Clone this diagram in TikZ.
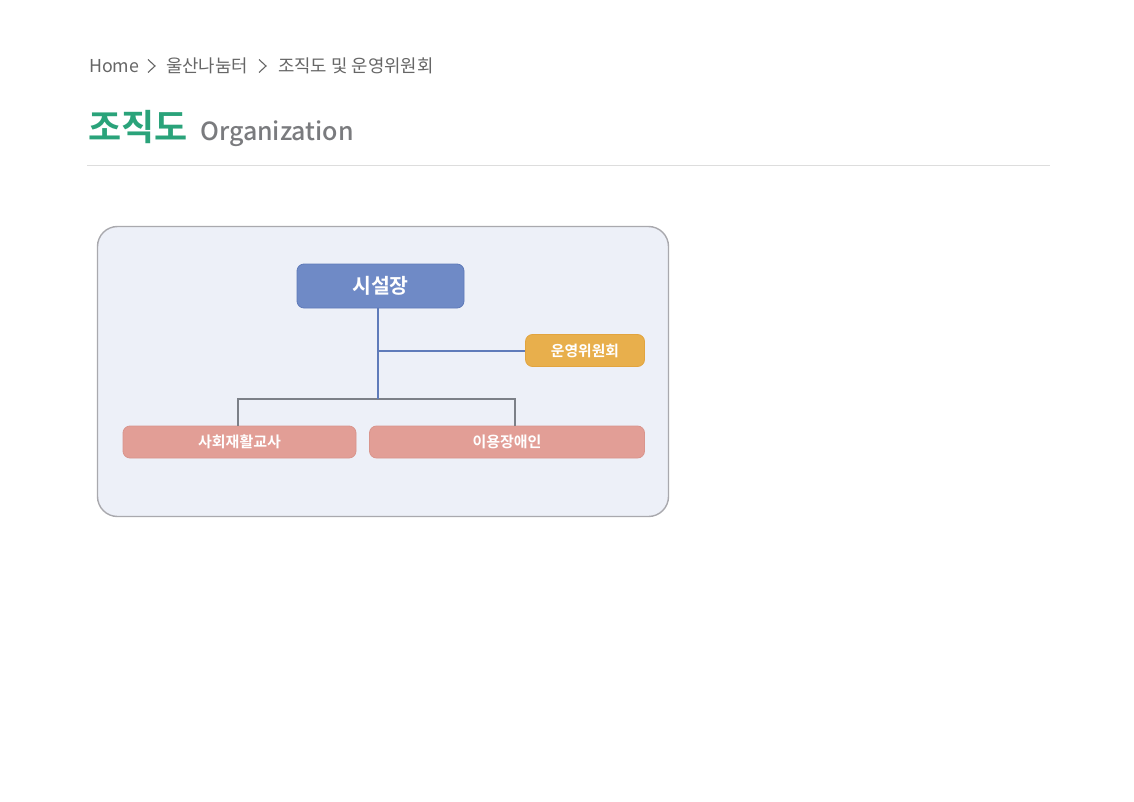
\documentclass[tikz,border=0pt]{standalone}
\usepackage{fontspec}
\setmainfont{Noto Sans CJK KR}
\newfontfamily\krbold{Noto Sans CJK KR Bold}
\newfontfamily\krmedium{Noto Sans CJK KR Medium}
\definecolor{crumbgray}{HTML}{666666}
\definecolor{titlegreen}{HTML}{2AA37A}
\definecolor{titlegray}{HTML}{7A7B7E}
\definecolor{rulegray}{HTML}{DDDDDD}
\definecolor{panelfill}{HTML}{EDF0F8}
\definecolor{paneldraw}{HTML}{A9A9AE}
\definecolor{headfill}{HTML}{6F8AC6}
\definecolor{headdraw}{HTML}{5F7AB9}
\definecolor{commfill}{HTML}{E8AF4C}
\definecolor{commdraw}{HTML}{E2A43E}
\definecolor{stafffill}{HTML}{E29E96}
\definecolor{staffdraw}{HTML}{D9958D}
\definecolor{bluelink}{HTML}{5F7BBA}
\definecolor{graylink}{HTML}{7C8088}
\begin{document}
\begin{tikzpicture}[x=1pt,y=-1pt,
    crumb/.style={anchor=base west,inner sep=0pt,text=crumbgray,font=\fontsize{17.8}{19}\selectfont},
    orgbox/.style={rounded corners=7pt,line width=0.8pt,text=white,inner sep=0pt},
    headbox/.style={orgbox,fill=headfill,draw=headdraw,minimum width=167pt,minimum height=44pt,font=\krbold\fontsize{20.5}{22}\selectfont},
    commbox/.style={orgbox,fill=commfill,draw=commdraw,minimum width=119pt,minimum height=32pt,font=\krbold\fontsize{14.8}{16}\selectfont},
    staffbox/.style={orgbox,fill=stafffill,draw=staffdraw,minimum height=32pt,font=\krbold\fontsize{15}{16}\selectfont}]
    \useasboundingbox (0,0) rectangle (1134,802);
    \fill[white] (0,0) rectangle (1134,802);
    % breadcrumb
    \node[crumb] (home) at (89,73) {Home};
    \node[crumb] (menu) at (166,73) {울산나눔터};
    \node[crumb] (page) at (278,73) {조직도 및 운영위원회};
    \draw[crumbgray,line width=1.1pt] (148,59.5)--(155,66)--(148,72.5);
    \draw[crumbgray,line width=1.1pt] (259,59.5)--(266,66)--(259,72.5);
    % title
    \node[anchor=base west,inner sep=0pt,text=titlegreen,font=\krbold\fontsize{36}{38}\selectfont] (title) at (88,141) {조직도};
    \node[anchor=base west,inner sep=0pt,text=titlegray,font=\krmedium\fontsize{25}{28}\selectfont] (subtitle) at (200,141) {Organization};
    \draw[rulegray,line width=1.2pt] (87,165.5)--(1050,165.5);
    % chart panel
    \filldraw[fill=panelfill,draw=paneldraw,line width=1.4pt,rounded corners=20pt] (97.5,226.5) rectangle (668.5,516.5);
    \node[headbox] (head) at (380.5,286) {시설장};
    \node[commbox] (comm) at (585,350.5) {운영위원회};
    \node[staffbox,minimum width=233pt] (staff) at (239.5,442) {사회재활교사};
    \node[staffbox,minimum width=275pt] (user) at (507,442) {이용장애인};
    \coordinate (trunk) at (377.5,399);
    \draw[graylink,line width=1.4pt] (trunk) -| ([xshift=-1.5pt]staff.north);
    \draw[graylink,line width=1.4pt] (trunk) -| ([xshift=8pt]user.north);
    \draw[bluelink,line width=2pt] (head.south-|trunk) -- (trunk);
    \draw[bluelink,line width=2pt] (comm.west-|trunk) -- (comm.west);
\end{tikzpicture}
\end{document}
